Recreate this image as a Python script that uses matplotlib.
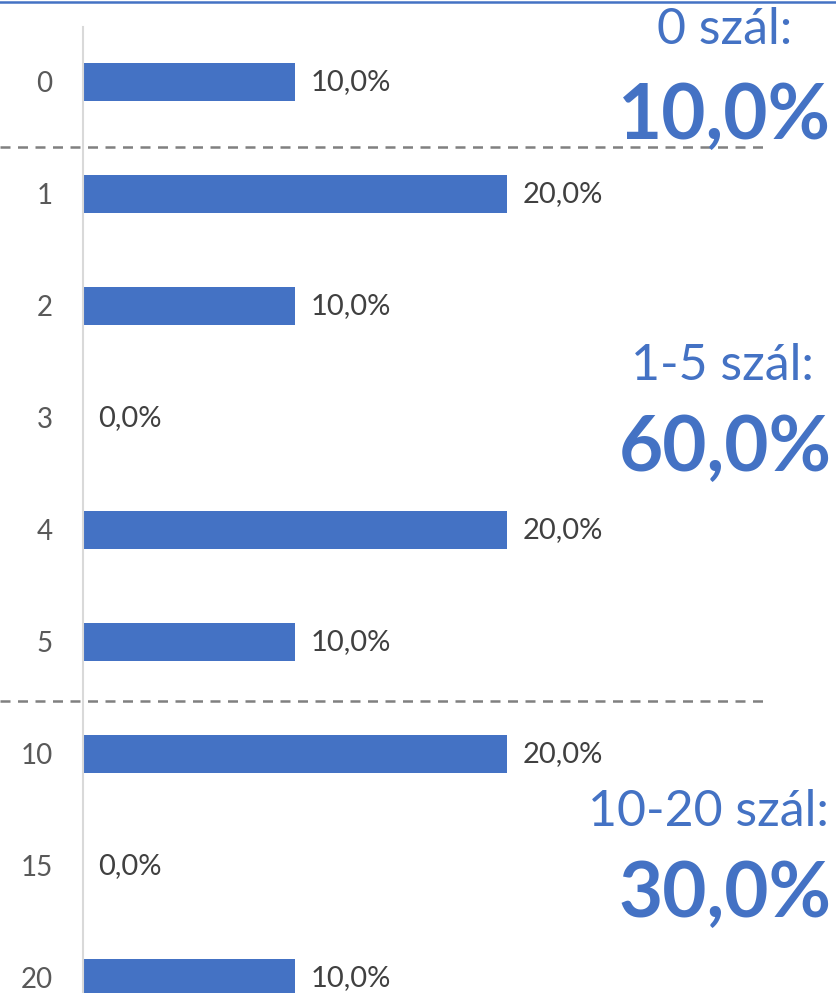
import matplotlib
matplotlib.use('Agg')
import matplotlib.pyplot as plt
import matplotlib.transforms as mtransforms
from matplotlib.lines import Line2D

plt.rcParams['font.family'] = ['Lato', 'DejaVu Sans']

# adatok
kategoriak = ['0', '1', '2', '3', '4', '5', '10', '15', '20']
ertekek = [0.10, 0.20, 0.10, 0.0, 0.20, 0.10, 0.20, 0.0, 0.10]
csoport_cimek = ['0 szál:', '1-5 szál:', '10-20 szál:']
csoport_ertekek = ['10,0%', '60,0%', '30,0%']

kek = '#4472C4'

fig = plt.figure(figsize=(8.36, 9.93), dpi=100)
ax = fig.add_axes([83/836, 0, 636/836, (993-27)/993])

y = range(len(kategoriak))
ax.barh(y, ertekek, height=0.34, color=kek)
ax.set_xlim(0, 0.30)
ax.set_ylim(8.134, -0.49)

ax.set_yticks(list(y))
ax.set_yticklabels(kategoriak, fontsize=20, color='#595959')
ax.tick_params(axis='y', length=0, pad=22)
ax.set_xticks([])
for s in ['top', 'right', 'bottom']:
    ax.spines[s].set_visible(False)
ax.spines['left'].set_color('#d9d9d9')
ax.spines['left'].set_linewidth(1.5)

# címkék a sávok végén
for i, v in enumerate(ertekek):
    ax.annotate(('%.1f%%' % (v * 100)).replace('.', ','), xy=(v, i),
                xytext=(11, 0), textcoords='offset points',
                va='center', ha='left', fontsize=21, color='#404040')

# szaggatott elválasztók
tr = mtransforms.blended_transform_factory(fig.transFigure, ax.transData)
for yy in [0.58, 5.53]:
    ax.add_line(Line2D([0, 770/836], [yy, yy], transform=tr, color='#808080',
                       lw=1.8, linestyle=(0, (4, 3)), clip_on=False))

# felső kék vonal
fig.add_artist(Line2D([0, 1], [1 - 2/993, 1 - 2/993], color=kek, lw=1.8))

# csoport összegek
cim_y = [30, 366, 812]
ert_y = [117, 449, 895]
cim_x = [725, 722, 708]
for c, e, cy, ey, cx in zip(csoport_cimek, csoport_ertekek, cim_y, ert_y, cim_x):
    fig.text(cx/836, 1 - cy/993, c, ha='center', va='center', fontsize=36, color=kek)
    fig.text(725/836, 1 - ey/993, e, ha='center', va='center', fontsize=55,
             fontweight='bold', color=kek)

fig.savefig('out.png', dpi=100)
